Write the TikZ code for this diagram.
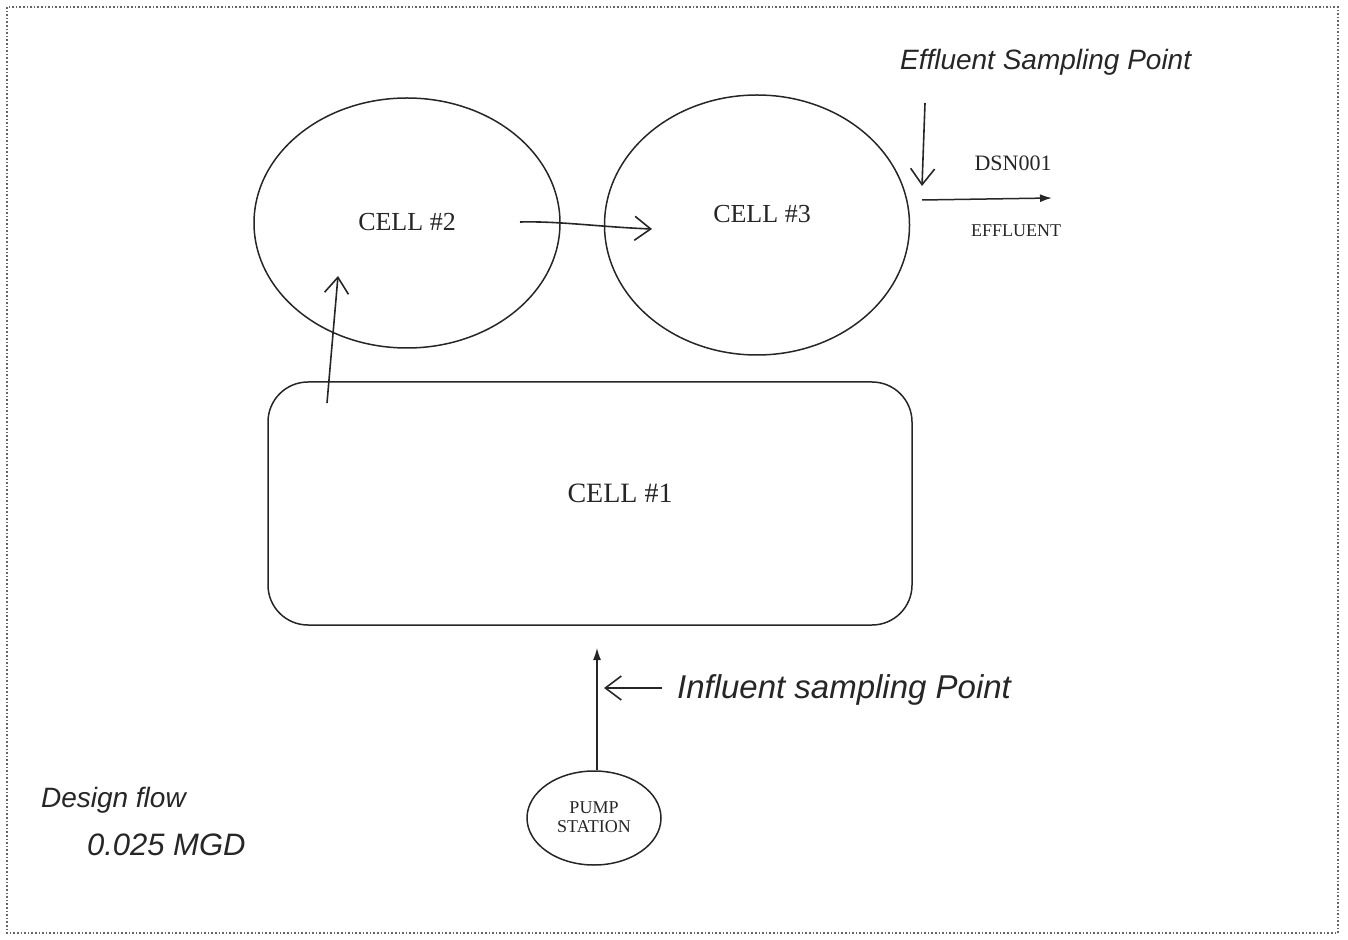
\documentclass[tikz,border=0pt]{standalone}
\usepackage{fontspec}
\setmainfont{Liberation Serif}
\newfontfamily\hand{Liberation Sans}
\usetikzlibrary{arrows.meta,shapes.geometric}
\tikzset{
  shape line/.style={draw=black!85, line width=0.75pt},
  cellellipse/.style={shape line, ellipse, inner sep=0pt},
  printtext/.style={font=\fontsize{13}{15}\selectfont, text=black!85},
  smalltext/.style={font=\fontsize{9}{10.5}\selectfont, text=black!85, align=center},
  handtext/.style={font=\hand\itshape\fontsize{14}{16}\selectfont, text=black!85, anchor=west},
  handarrow/.style={draw=black!85, line width=0.8pt, -{Straight Barb[length=8pt,width=12pt]}},
  printarrow/.style={draw=black!85, line width=0.75pt, -{Latex[length=6pt,width=4pt]}},
}
\begin{document}
\begin{tikzpicture}[x=0.5pt,y=-0.5pt]
\useasboundingbox (0,0) rectangle (1348,940);
\draw[black!60, line width=0.8pt, densely dotted] (7,7) rectangle (1338,933);

% cells
\node[cellellipse, minimum width=153pt, minimum height=125pt] (cell2) at (407,223) {};
\node[printtext] at (407,222) {CELL \#2};
\node[cellellipse, minimum width=152.5pt, minimum height=130pt] (cell3) at (757,225) {};
\node[printtext] at (762,214) {CELL \#3};
\node[shape line, rectangle, rounded corners=20pt, minimum width=322pt, minimum height=121.5pt] (cell1) at (590,503.5) {};
\node[printtext, font=\fontsize{14}{16}\selectfont] at (620,493) {CELL \#1};
\node[cellellipse, minimum width=67pt, minimum height=47pt] (pump) at (594,818) {};
\node[smalltext] at (594,817) {PUMP\\[-1pt]STATION};

% flow arrows
\coordinate (c1out) at (327,403);
\coordinate (c2in) at (338,276);
\draw[handarrow] (c1out) -- (c2in);
\coordinate (c2out) at (520,222);
\coordinate (c3in) at (652,229);
\draw[handarrow] (c2out) .. controls (560,221) and (600,227) .. (c3in);
\coordinate (pin) at (597,648);
\draw[printarrow, line width=0.6pt] (pump.north) ++(3,0) coordinate (pout) -- (pin);
\coordinate (effstart) at (922,200);
\coordinate (effend) at (1052,198);
\draw[printarrow] (effstart) -- (effend);
\node[printtext, font=\fontsize{11}{13}\selectfont] (dsn) at (1013,163) {DSN001};
\node[smalltext] (eff) at (1016,231) {EFFLUENT};

% sampling points
\node[handtext] (esp) at (893,62) {Effluent Sampling Point};
\coordinate (espa) at (925,103);
\coordinate (espb) at (922,186);
\draw[handarrow] (espa) -- (espb);
\node[handtext, font=\hand\itshape\fontsize{16.5}{18}\selectfont] (isp) at (670,690) {Influent sampling Point};
\coordinate (ispa) at (662,688);
\coordinate (ispb) at (604,688);
\draw[handarrow] (ispa) -- (ispb);

% design flow
\node[handtext] (df) at (34,800) {Design flow};
\node[handtext, font=\hand\itshape\fontsize{15.5}{17}\selectfont] (mgd) at (80,845) {0.025 MGD};
\end{tikzpicture}
\end{document}
